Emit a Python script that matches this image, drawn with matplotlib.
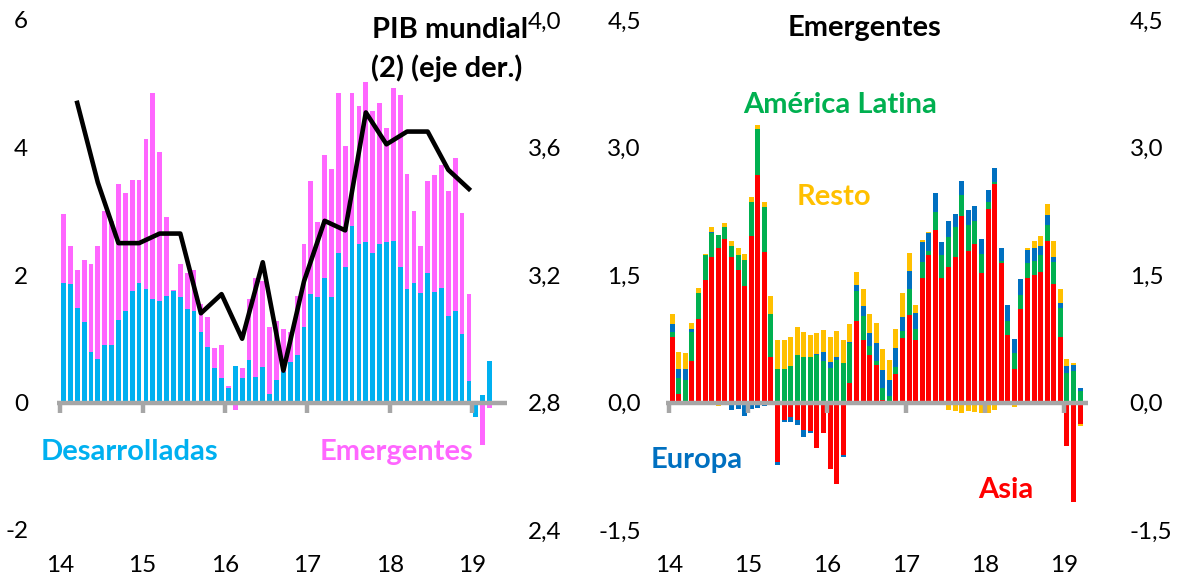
import numpy as np
import matplotlib.pyplot as plt

plt.rcParams['font.family'] = ['Lato', 'DejaVu Sans']

W, H = 1181, 583

# ---- left panel: contributions (pp), monthly Jan-14 .. Mar-19
desarrolladas = [1.87, 1.86, 1.49, 1.26, 0.80, 0.69, 0.90, 0.90, 1.29, 1.44, 1.75, 1.87,
                 1.78, 1.62, 1.59, 1.67, 1.75, 1.65, 1.46, 1.44, 1.10, 0.87, 0.54, 0.39,
                 0.23, 0.57, 0.39, 0.67, 0.40, 0.56, 0.13, 0.36, 0.48, 0.64, 0.74, 1.18,
                 1.70, 1.65, 1.95, 1.65, 2.34, 2.13, 2.77, 2.49, 2.51, 2.35, 2.48, 2.51,
                 2.54, 2.13, 1.78, 1.87, 1.72, 2.03, 1.74, 1.79, 1.36, 1.44, 1.08, 0.33,
                 -0.22, 0.11, 0.65]
emergentes = [1.09, 0.60, 0.59, 0.98, 1.37, 1.77, 2.10, 1.95, 2.13, 1.85, 1.74, 1.62,
              2.36, 3.24, 2.34, 1.24, 0.02, 0.52, 0.57, 0.64, 0.44, 0.47, 0.31, 0.51,
              0.03, -0.12, 0.15, 0.95, 1.55, 1.34, 1.05, 0.92, 0.67, 0.47, 0.93, 1.31,
              1.77, 1.18, 1.93, 2.02, 2.52, 1.90, 2.08, 2.16, 2.52, 2.22, 2.22, 1.80,
              2.39, 2.70, 1.81, 1.14, 0.73, 1.44, 1.83, 1.93, 1.95, 2.39, 1.90, 1.37,
              0.0, -0.67, -0.09]
# world GDP, quarterly Q1-14 .. Q4-18 (right axis)
pib_mundial = [3.74, 3.49, 3.30, 3.30, 3.33, 3.33, 3.08, 3.14, 3.00, 3.24,
               2.90, 3.18, 3.37, 3.34, 3.71, 3.61, 3.65, 3.65, 3.53, 3.47]

# ---- right panel: emerging by region
asia = [0.77, 0.10, 0.0, 0.49, 0.98, 1.44, 1.71, 1.82, 1.92, 1.71, 1.56, 1.37,
        1.96, 2.68, 1.77, 0.53, -0.70, -0.20, -0.17, -0.20, -0.32, -0.33, -0.53, -0.36,
        -0.78, -0.96, -0.62, 0.23, 0.96, 0.73, 0.56, 0.44, 0.03, 0.02, 0.34, 0.76,
        1.03, 0.73, 1.47, 1.73, 2.03, 1.47, 1.59, 1.71, 2.20, 1.78, 1.87, 1.52,
        2.28, 2.57, 1.64, 0.79, 0.39, 1.10, 1.46, 1.50, 1.53, 1.90, 1.40, 0.77,
        -0.51, -1.17, -0.25]
america_latina = [0.06, 0.19, 0.27, 0.34, 0.31, 0.29, 0.28, 0.15, 0.15, 0.13, 0.17, 0.31,
                  0.40, 0.54, 0.53, 0.51, 0.40, 0.39, 0.43, 0.56, 0.54, 0.54, 0.56, 0.49,
                  0.41, 0.50, 0.46, 0.47, 0.35, 0.29, 0.10, 0.05, 0.14, 0.06, 0.08, 0.08,
                  0.31, 0.13, 0.18, 0.05, 0.21, 0.26, 0.36, 0.36, 0.24, 0.31, 0.27, 0.23,
                  0.08, 0.02, 0.02, 0.17, 0.19, 0.17, 0.18, 0.17, 0.20, 0.19, 0.25, 0.34,
                  0.35, 0.37, 0.13]
europa = [0.09, 0.11, 0.12, 0.03, 0.0, 0.01, 0.02, -0.03, 0.0, -0.09, -0.08, -0.16,
          -0.08, -0.07, -0.04, 0.0, -0.03, -0.03, -0.06, -0.07, -0.08, -0.03, 0.01, 0.11,
          0.07, 0.03, -0.02, 0.01, 0.07, 0.11, 0.16, 0.21, 0.21, 0.18, 0.22, 0.17,
          0.21, 0.19, 0.24, 0.22, 0.22, 0.16, 0.18, 0.15, 0.17, 0.17, 0.17, 0.17,
          0.14, 0.17, 0.16, 0.19, 0.17, 0.18, 0.15, 0.15, 0.11, 0.12, 0.06, 0.06,
          0.08, 0.07, 0.04]
resto = [0.12, 0.20, 0.19, 0.08, 0.06, 0.01, 0.06, -0.01, 0.04, 0.06, 0.09, 0.07,
         0.06, 0.05, 0.06, 0.21, 0.33, 0.34, 0.34, 0.33, 0.29, 0.25, 0.25, 0.25,
         0.29, 0.31, 0.27, 0.21, 0.16, 0.20, 0.22, 0.23, 0.25, 0.24, 0.23, 0.28,
         0.21, 0.10, 0.02, 0.01, 0.01, 0.0, -0.09, -0.10, -0.12, -0.10, -0.11, -0.12,
         -0.12, -0.09, 0.0, 0.0, -0.05, 0.0, 0.03, 0.08, 0.12, 0.13, 0.19, 0.16,
         0.08, 0.03, -0.03]

years = ["14", "15", "16", "17", "18", "19"]

GRAY = "#A6A6A6"
TICK_FS = 17.5


def stacked(ax, x, series, width):
    pos = np.zeros(len(x))
    neg = np.zeros(len(x))
    for vals, color in series:
        v = np.array(vals, dtype=float)
        bottom = np.where(v >= 0, pos, neg)
        ax.bar(x, v, width, bottom=bottom, color=color, linewidth=0, zorder=2)
        pos += np.clip(v, 0, None)
        neg += np.clip(v, None, 0)


def style_axis(ax, tick_len):
    for s in ax.spines.values():
        s.set_visible(False)
    ax.axhline(0, color=GRAY, lw=3.2, zorder=3)
    yr = np.arange(len(years)) * 12
    ax.vlines(yr, 0, -tick_len, color=GRAY, lw=3.2, zorder=3)
    ax.set_xticks(yr)
    ax.set_xticklabels(years)
    ax.tick_params(axis='both', length=0, labelsize=TICK_FS)
    ax.tick_params(axis='x', pad=18)


fig = plt.figure(figsize=(W / 100, H / 100), dpi=100)

# left panel
ax1 = fig.add_axes([57.3 / W, 1 - 530 / H, (506.7 - 57.3) / W, 510 / H])
x = np.arange(len(desarrolladas)) + 0.5
stacked(ax1, x, [(desarrolladas, "#00B0F0"), (emergentes, "#FF66FF")], 0.7)
ax1.set_xlim(-0.4, 65)
ax1.set_ylim(-2, 6)
ax1.set_yticks([-2, 0, 2, 4, 6])
ax1.set_yticklabels(["-2", "0", "2", "4", "6"])
style_axis(ax1, 0.16)
ax1.tick_params(axis='y', pad=21)

ax2 = ax1.twinx()
xq = np.arange(len(pib_mundial)) * 3 + 2.5
ax2.plot(xq, pib_mundial, color="black", lw=3.3, zorder=5)
ax2.set_ylim(2.4, 4.0)
ax2.set_yticks([2.4, 2.8, 3.2, 3.6, 4.0])
ax2.set_yticklabels(["2,4", "2,8", "3,2", "3,6", "4,0"])
for s in ax2.spines.values():
    s.set_visible(False)
ax2.tick_params(axis='y', length=0, labelsize=TICK_FS, pad=15)

# right panel
ax3 = fig.add_axes([666 / W, 1 - 530 / H, (1088 - 666) / W, 510 / H])
x3 = np.arange(len(asia)) + 0.5
stacked(ax3, x3, [(asia, "#FF0000"), (america_latina, "#00B050"),
                  (europa, "#0070C0"), (resto, "#FFC000")], 0.76)
ax3.set_xlim(-0.45, 63.7)
ax3.set_ylim(-1.5, 4.5)
yt = [-1.5, 0.0, 1.5, 3.0, 4.5]
ylab = ["-1,5", "0,0", "1,5", "3,0", "4,5"]
ax3.set_yticks(yt)
ax3.set_yticklabels(ylab)
style_axis(ax3, 0.12)
ax3.tick_params(axis='y', pad=18)
ax4 = ax3.twinx()
ax4.set_ylim(-1.5, 4.5)
ax4.set_yticks(yt)
ax4.set_yticklabels(ylab)
for s in ax4.spines.values():
    s.set_visible(False)
ax4.tick_params(axis='y', length=0, labelsize=TICK_FS, pad=30)


def label(px, py, s, color, ha="center"):
    fig.text(px / W, 1 - py / H, s, color=color, fontsize=21, fontweight="bold",
             ha=ha, va="center")


label(450, 30, "PIB mundial", "black")
label(447, 68, "(2) (eje der.)", "black")
label(129, 452, "Desarrolladas", "#00B0F0")
label(396, 452, "Emergentes", "#FF66FF")
label(865, 28, "Emergentes", "black")
label(840, 105, "América Latina", "#00B050")
label(834, 197, "Resto", "#FFC000")
label(697, 460, "Europa", "#0070C0")
label(1006, 490, "Asia", "#FF0000")

fig.savefig("out.png", dpi=100)
